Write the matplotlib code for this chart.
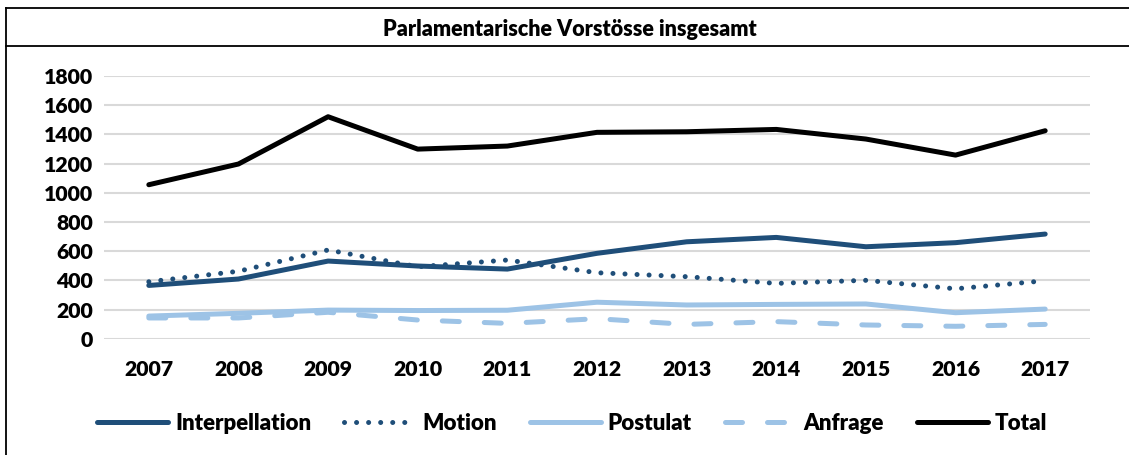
import matplotlib.pyplot as plt
from matplotlib.lines import Line2D

plt.rcParams['font.family'] = ['Lato', 'DejaVu Sans']

# Data
years = ['2007', '2008', '2009', '2010', '2011', '2012', '2013', '2014', '2015', '2016', '2017']
interpellation = [365, 409, 532, 498, 477, 585, 664, 694, 630, 658, 717]
motion = [390, 462, 608, 493, 539, 452, 425, 379, 400, 342, 397]
postulat = [155, 174, 196, 193, 195, 250, 231, 235, 238, 178, 203]
anfrage = [142, 142, 181, 128, 105, 137, 98, 117, 94, 85, 98]
total = [1055, 1197, 1521, 1299, 1320, 1414, 1418, 1434, 1368, 1258, 1425]

dark_blue = '#1F4E79'
light_blue = '#9DC3E6'

fig = plt.figure(figsize=(11.29, 4.55), dpi=100)
ax = fig.add_axes([104 / 1129, 1 - 338.7 / 455, 986 / 1129, 262.7 / 455])

x = range(len(years))
lw = 3.6
ax.plot(x, interpellation, color=dark_blue, lw=lw, solid_capstyle='round', label='Interpellation')
ax.plot(x, motion, color=dark_blue, lw=lw, linestyle=(0, (0.01, 2.4)),
        dash_capstyle='round', label='Motion')
ax.plot(x, postulat, color=light_blue, lw=lw, solid_capstyle='round', label='Postulat')
ax.plot(x, anfrage, color=light_blue, lw=lw, linestyle=(0, (3.4, 5)),
        dash_capstyle='round', label='Anfrage')
ax.plot(x, total, color='black', lw=lw, solid_capstyle='round', label='Total')

ax.set_xlim(-0.5, len(years) - 0.5)
ax.set_ylim(0, 1800)
ax.set_yticks(range(0, 1801, 200))
ax.set_xticks(list(x))
ax.set_xticklabels(years)
ax.grid(True, axis='y', color='#D9D9D9', lw=1.5)
ax.set_axisbelow(True)
for s in ax.spines.values():
    s.set_visible(False)
ax.tick_params(length=0, labelsize=15.3, pad=8)
ax.tick_params(axis='x', pad=15)
for lab in ax.get_xticklabels() + ax.get_yticklabels():
    lab.set_fontweight('heavy')

# frame lines around the chart
W, H = 1129, 455
for y in (8, 46):
    fig.add_artist(Line2D([6 / W, 1], [1 - y / H, 1 - y / H], color='black', lw=1.3))
fig.add_artist(Line2D([6 / W, 6 / W], [0, 1 - 8 / H], color='black', lw=1.3))

fig.text(570 / W, 1 - 29 / H, 'Parlamentarische Vorstösse insgesamt',
         ha='center', va='center', fontsize=15.5, fontweight='heavy')

leg = fig.legend(loc='center', bbox_to_anchor=(572 / W, 1 - 423 / H), ncol=5,
                 frameon=False, handlelength=3.2, handletextpad=0.3,
                 columnspacing=1.5, prop={'size': 16, 'weight': 'heavy'})

plt.savefig('out.png', dpi=100)
